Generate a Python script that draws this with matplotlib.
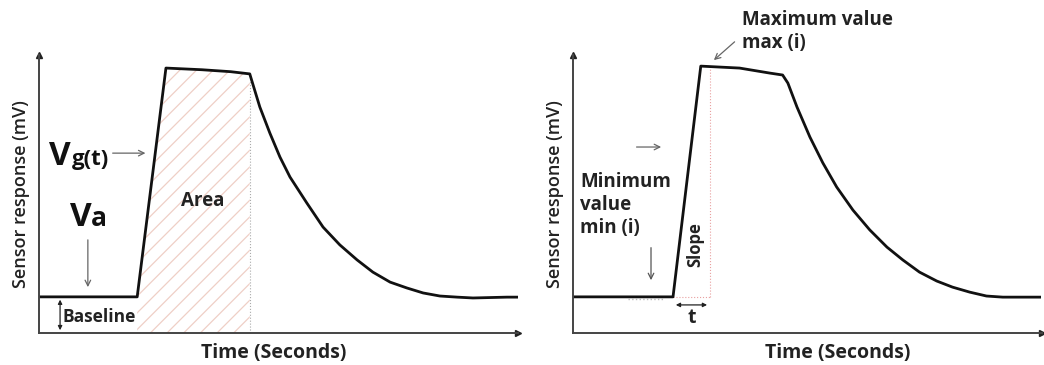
import numpy as np
import matplotlib
matplotlib.use("Agg")
import matplotlib.pyplot as plt

plt.rcParams['font.family'] = ['Open Sans', 'DejaVu Sans']
plt.rcParams['hatch.linewidth'] = 0.9

# left panel: sensor response curve (arbitrary units)
t_left = [0, 20.5, 26.5, 34, 40, 44, 44.7, 46.1, 48.2, 50.3, 52.4, 55.9, 59.3, 62.8, 66.4,
          69.7, 73.3, 76.8, 80.2, 83.7, 87.3, 90.6, 97.7, 100]
v_left = [13, 13, 95.3, 94.7, 94, 93.2, 89.2, 81.3, 71.9, 63.3, 56.1, 46.8, 38.1, 31.7, 26.3,
          21.9, 18.3, 16.2, 14.4, 13.3, 12.9, 12.6, 12.9, 12.9]

# right panel: same kind of curve with a steeper rise
t_right = [0, 20.9, 26.7, 34.8, 41.1, 43.8, 44.9, 46.8, 49.5, 52.2, 55.1, 58.5, 62.0, 65.6,
           68.9, 72.4, 76.0, 79.3, 82.9, 86.4, 89.8, 97.5]
v_right = [13, 13, 96, 95.3, 93.5, 92.8, 89.9, 81.3, 70.5, 61.2, 52.5, 44.2, 37.1, 30.9,
           26.3, 21.9, 18.7, 16.5, 14.7, 13.3, 12.9, 12.9]

baseline = 13
area_start = 20.5
area_end = 44        # end of the integrated region (left)
slope_end = 28.6     # end of the rise window (right)

fig = plt.figure(figsize=(10.44, 3.65), dpi=100)
ax1 = fig.add_axes([39 / 1044, 32 / 365, 479 / 1044, 278 / 365])
ax2 = fig.add_axes([573 / 1044, 32 / 365, 469 / 1044, 278 / 365])

axis_col = '#444444'
for ax, xmax in ((ax1, 100), (ax2, 98)):
    ax.set_xlim(0, xmax)
    ax.set_ylim(0, 100)
    ax.set_xticks([])
    ax.set_yticks([])
    for s in ('top', 'right'):
        ax.spines[s].set_visible(False)
    for s in ('left', 'bottom'):
        ax.spines[s].set_color(axis_col)
        ax.spines[s].set_linewidth(1.4)
    # arrow heads on the axes
    ax.plot(0, 1, marker='^', ms=5, color='#222222', transform=ax.transAxes, clip_on=False)
    ax.plot(1, 0, marker='>', ms=5, color='#222222', transform=ax.transAxes, clip_on=False)
    ax.set_xlabel('Time (Seconds)', fontsize=14, fontweight='bold', color='#222222')
    ax.set_ylabel('Sensor response (mV)', fontsize=13, fontweight='semibold', color='#222222')

ax1.xaxis.set_label_coords(0.49, -0.035)
ax2.xaxis.set_label_coords(0.565, -0.035)
ax1.yaxis.set_label_coords(-0.018, 0.5)
ax2.yaxis.set_label_coords(-0.02, 0.5)

# ---- left panel ----
t_arr = np.array(t_left)
v_arr = np.array(v_left)
mask = (t_arr >= area_start) & (t_arr <= area_end)
ax1.fill_between(t_arr[mask], 0, v_arr[mask], facecolor='none', edgecolor='#efcfc6',
                 hatch='//', linewidth=0)
ax1.plot([area_end, area_end], [0, v_arr[t_arr == area_end][0]], color='#aaaaaa', lw=0.8, ls=':')
ax1.plot(t_left, v_left, color='#111111', lw=2.0, solid_joinstyle='round')

ax1.text(34.2, 47.5, 'Area', fontsize=13.5, fontweight='bold', ha='center', va='center', color='#222222')

ax1.text(2.0, 60.5, 'V', fontsize=24, fontweight='bold', ha='left', va='baseline', color='#111111')
ax1.text(6.9, 60.5, 'g(t)', fontsize=16, fontweight='bold', ha='left', va='baseline', color='#111111')
ax1.annotate('', xy=(22.8, 64.7), xytext=(14.8, 64.7),
             arrowprops=dict(arrowstyle='->', color='#666666', lw=0.9))

ax1.text(6.4, 38.5, 'V', fontsize=24, fontweight='bold', ha='left', va='baseline', color='#111111')
ax1.text(10.8, 38.5, 'a', fontsize=19, fontweight='bold', ha='left', va='baseline', color='#111111')
ax1.annotate('', xy=(10.2, 15.5), xytext=(10.2, 34.5),
             arrowprops=dict(arrowstyle='->', color='#666666', lw=0.9))

ax1.annotate('', xy=(4.4, baseline), xytext=(4.4, 0),
             arrowprops=dict(arrowstyle='<|-|>', color='#222222', lw=0.9, mutation_scale=6))
ax1.text(5.0, 5.8, 'Baseline', fontsize=12.5, fontweight='bold', ha='left', va='center', color='#222222')

# ---- right panel ----
ax2.plot([slope_end, slope_end], [baseline, 96], color='#e8a0a0', lw=0.8, ls=':')
ax2.plot([20.9, slope_end], [baseline, baseline], color='#e8a0a0', lw=0.8, ls=':')
ax2.plot([11.5, 19], [baseline - 0.8, baseline - 0.8], color='#bbbbbb', lw=1.0, ls=':')
ax2.plot(t_right, v_right, color='#111111', lw=2.0, solid_joinstyle='round')

ax2.annotate('', xy=(20.9, 10.1), xytext=(slope_end, 10.1),
             arrowprops=dict(arrowstyle='<|-|>', color='#222222', lw=0.9, mutation_scale=6))
ax2.text(24.8, 5.4, 't', fontsize=14, fontweight='bold', ha='center', va='center', color='#222222')
ax2.text(25.5, 31.7, 'Slope', fontsize=12, fontweight='bold', rotation=90,
         ha='center', va='center', color='#222222')

ax2.annotate('', xy=(19, 66.9), xytext=(12.7, 66.9),
             arrowprops=dict(arrowstyle='->', color='#666666', lw=0.9))
ax2.text(1.5, 46, 'Minimum\nvalue\nmin (i)', fontsize=13.5, fontweight='bold', ha='left', va='center',
         linespacing=1.2, color='#222222')
ax2.annotate('', xy=(16.3, 18), xytext=(16.3, 31.7),
             arrowprops=dict(arrowstyle='->', color='#555555', lw=0.9))

ax2.text(35.3, 108.5, 'Maximum value\nmax (i)', fontsize=13.5, fontweight='bold', ha='left', va='center',
         linespacing=1.2, color='#222222', clip_on=False)
ax2.annotate('', xy=(29.0, 97.5), xytext=(34.2, 105.4), annotation_clip=False,
             arrowprops=dict(arrowstyle='->', color='#666666', lw=0.9))

fig.savefig('out.png', dpi=100)
